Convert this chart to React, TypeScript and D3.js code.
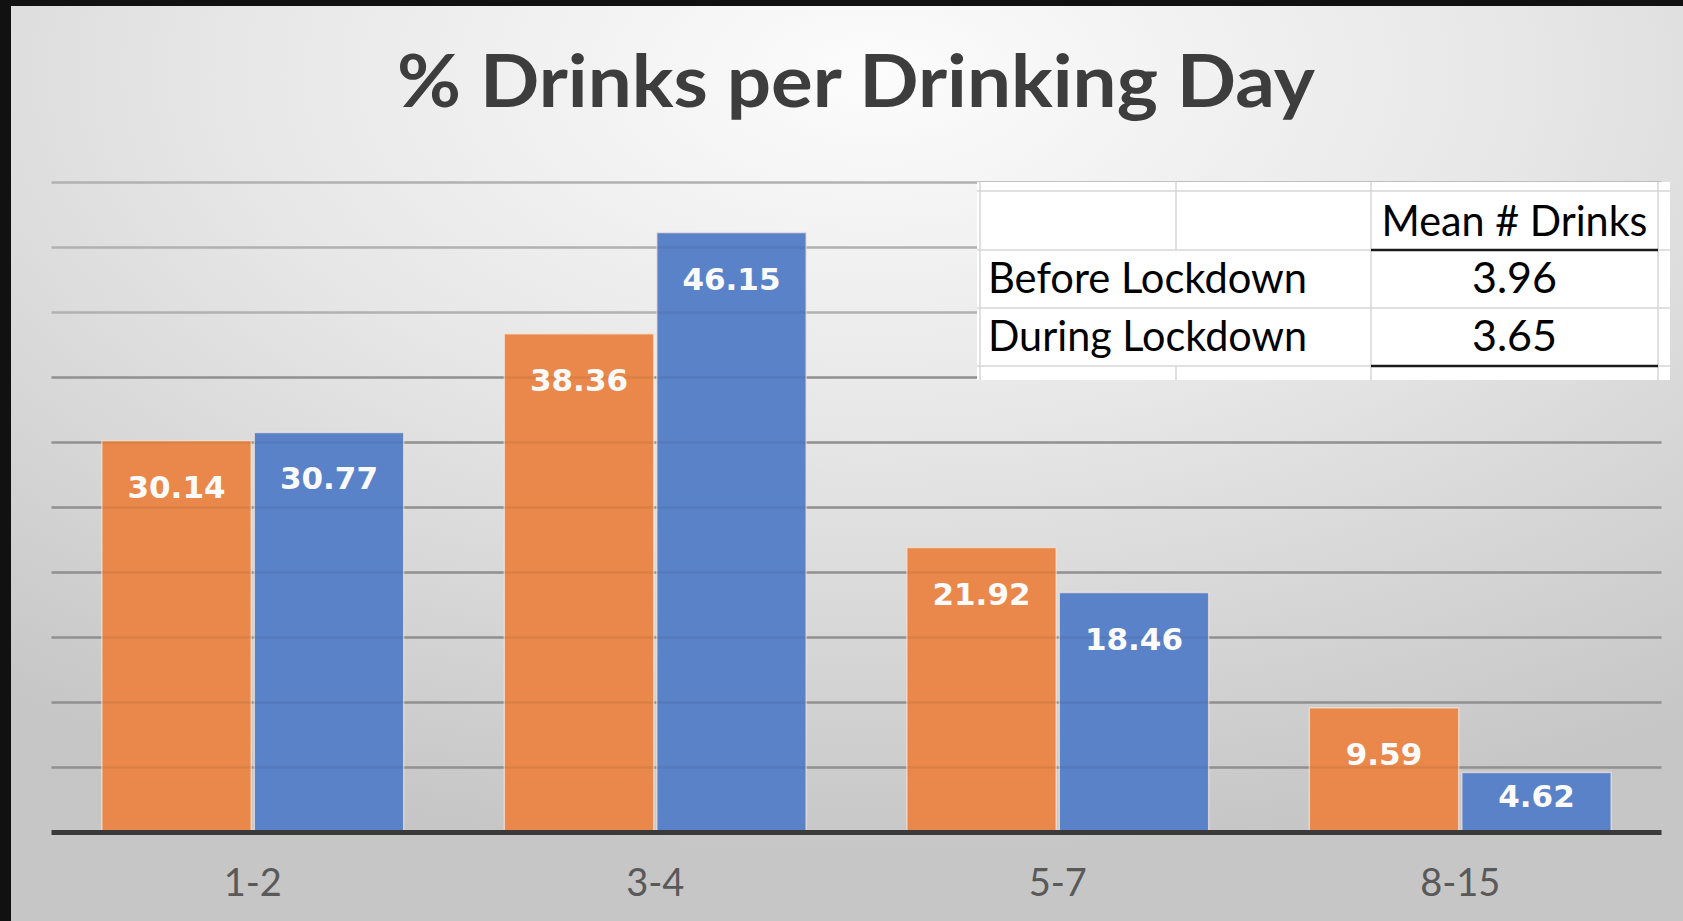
import React from "react";
import * as d3 from "d3";

const categories = ["1-2", "3-4", "5-7", "8-15"];
const seriesNames = ["Before Lockdown", "During Lockdown"];
const beforeValues = [30.14, 38.36, 21.92, 9.59];
const duringValues = [30.77, 46.15, 18.46, 4.62];
const yTicks = [0, 5, 10, 15, 20, 25, 30, 35, 40, 45, 50];
const titleText = "% Drinks per Drinking Day";
const tableHeader = "Mean # Drinks";
const tableRowLabels = ["Before Lockdown", "During Lockdown"];
const tableValues = ["3.96", "3.65"];

const W = 1683;
const H = 921;
const colors = ["#E9884A", "#5A82C8"];

export default function App() {
  const x0 = d3.scaleBand<string>().domain(categories).range([51.5, 1661.5]).paddingInner(0.25).paddingOuter(0.125);
  const x1 = d3.scaleBand<string>().domain(seriesNames).range([0, x0.bandwidth()]).paddingInner(0.02);
  const y = d3.scaleLinear().domain([0, 50]).range([832.5, 182.5]);
  const series = [beforeValues, duringValues];

  const bars: any[] = [];
  categories.forEach((c, ci) => {
    seriesNames.forEach((s, si) => {
      const v = series[si][ci];
      const bx = (x0(c) as number) + (x1(s) as number);
      const top = y(v);
      const bottom = y(0);
      const ly = Math.min(top + 57, bottom - 26);
      bars.push({ key: c + s, x: bx, w: x1.bandwidth(), top, bottom, v, color: colors[si], ly });
    });
  });

  const tx0 = 980, tx1 = 1176, tx2 = 1371, tx3 = 1658, tx4 = 1670;
  const ty0 = 182, tyA = 191, tyB = 250, tyC = 308, tyD = 366, ty1 = 380;
  const light = "#d6d6d6";

  return (
    <svg width={W} height={H} style={{ position: "absolute", left: 0, top: 0, display: "block" }}>
      <defs>
        <radialGradient id="bg" cx="52%" cy="8%" r="85%" fx="52%" fy="8%">
          <stop offset="0%" stopColor="#fcfcfc" />
          <stop offset="45%" stopColor="#e7e7e7" />
          <stop offset="100%" stopColor="#c6c6c6" />
        </radialGradient>
      </defs>
      <rect x={0} y={0} width={W} height={H} fill="url(#bg)" />
      <rect x={0} y={0} width={11} height={H} fill="#111" />
      <rect x={0} y={0} width={W} height={6} fill="#111" />

      <text x={856} y={107} textAnchor="middle" fontFamily="Lato, 'Open Sans', sans-serif" fontWeight={700} fontSize={72} fill="#3d3d3d" textLength={918} lengthAdjust="spacingAndGlyphs">
        {titleText}
      </text>

      {yTicks.filter((t) => t > 0).map((t) => (
        <line key={t} x1={51.5} x2={1661.5} y1={y(t)} y2={y(t)} stroke={t >= 40 ? "#bdbdbd" : "#9a9a9a"} strokeWidth={2.5} />
      ))}

      {bars.map((b) => (
        <rect key={b.key} x={b.x} y={b.top} width={b.w} height={b.bottom - b.top} fill={b.color} stroke="#f6e7dc" strokeOpacity={0.7} strokeWidth={1.5} />
      ))}

      {yTicks.filter((t) => t > 0).map((t) => (
        <line key={"o" + t} x1={51.5} x2={1661.5} y1={y(t)} y2={y(t)} stroke="#000" strokeOpacity={0.06} strokeWidth={2.5} />
      ))}

      <line x1={51.5} x2={1661.5} y1={y(0)} y2={y(0)} stroke="#3a3a3a" strokeWidth={5} />

      {bars.map((b) => (
        <text key={"l" + b.key} x={b.x + b.w / 2} y={b.ly} textAnchor="middle" fontFamily="'DejaVu Sans', Verdana, sans-serif" fontWeight={700} fontSize={31} fill="#fbfbfb">
          {b.v.toFixed(2)}
        </text>
      ))}

      {categories.map((c) => (
        <text key={"c" + c} x={(x0(c) as number) + x0.bandwidth() / 2} y={896} textAnchor="middle" fontFamily="Lato, 'Open Sans', sans-serif" fontSize={38} fill="#595959">
          {c}
        </text>
      ))}

      <rect x={tx0 - 3} y={ty0} width={tx4 - tx0 + 3} height={ty1 - ty0} fill="#ffffff" />
      <g stroke={light} strokeWidth={1.5}>
        <line x1={tx0 - 3} x2={tx4} y1={tyA} y2={tyA} />
        <line x1={tx0 - 3} x2={tx2} y1={tyB} y2={tyB} />
        <line x1={tx0 - 3} x2={tx4} y1={tyC} y2={tyC} />
        <line x1={tx0 - 3} x2={tx2} y1={tyD} y2={tyD} />
        <line x1={tx3} x2={tx4} y1={tyB} y2={tyB} />
        <line x1={tx3} x2={tx4} y1={tyD} y2={tyD} />
        <line x1={tx0} x2={tx0} y1={ty0} y2={ty1} />
        <line x1={tx1} x2={tx1} y1={ty0} y2={tyB} />
        <line x1={tx1} x2={tx1} y1={tyD} y2={ty1} />
        <line x1={tx2} x2={tx2} y1={ty0} y2={ty1} />
        <line x1={tx3} x2={tx3} y1={ty0} y2={ty1} />
      </g>
      <line x1={tx2} x2={tx3} y1={tyB} y2={tyB} stroke="#1a1a1a" strokeWidth={2.5} />
      <line x1={tx2} x2={tx3} y1={tyD} y2={tyD} stroke="#1a1a1a" strokeWidth={2.5} />
      <text x={(tx2 + tx3) / 2} y={236} textAnchor="middle" fontFamily="Lato, 'Open Sans', sans-serif" fontSize={43} fill="#000" textLength={266} lengthAdjust="spacingAndGlyphs">
        {tableHeader}
      </text>
      {tableRowLabels.map((r, i) => (
        <text key={r} x={988} y={293 + i * 58} fontFamily="Lato, 'Open Sans', sans-serif" fontSize={43} fill="#000" textLength={319} lengthAdjust="spacingAndGlyphs">
          {r}
        </text>
      ))}
      {tableValues.map((v, i) => (
        <text key={"v" + i} x={(tx2 + tx3) / 2} y={293 + i * 58} textAnchor="middle" fontFamily="Lato, 'Open Sans', sans-serif" fontSize={43} fill="#000">
          {v}
        </text>
      ))}
    </svg>
  );
}
